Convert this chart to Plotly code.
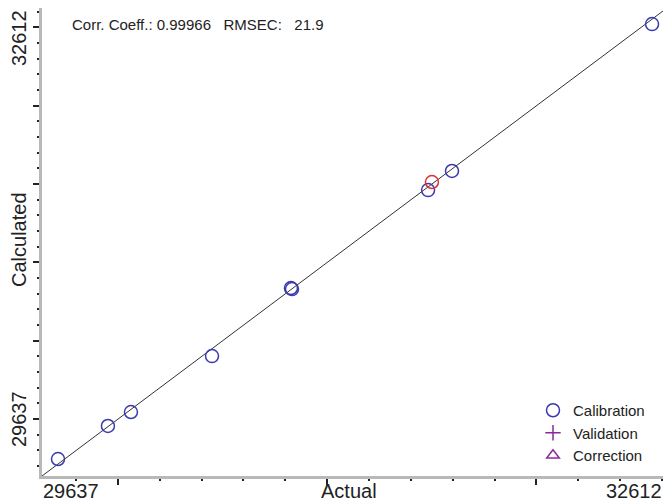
import plotly.graph_objects as go

# ---- data ----
cal_actual = [29296, 29580, 29711, 30172, 30621, 30627, 31401, 31537, 32675]
cal_calculated = [29334, 29585, 29691, 30116, 30633, 30625, 31377, 31522, 32638]
sel_actual = [31423]
sel_calculated = [31438]
axis_range = [29205, 32760]
fit_line = [29205, 32760]
y_tick_vals = [29637, 30232, 30827, 31422, 32017, 32612]
y_end_labels = ["29637", "32612"]
x_tick_vals = [29637, 30827, 32017]
x_end_labels = ["29637", "32612"]
corr_coeff = 0.99966
rmsec = 21.9

FONT = "Arial, Liberation Sans, sans-serif"
BLUE = "#3a3ab0"
PURPLE = "#8a2a9a"
TXT = "#222222"

fig = go.Figure()
fig.add_trace(go.Scatter(x=fit_line, y=fit_line, mode="lines",
                         line=dict(color="#333333", width=1), showlegend=False,
                         hoverinfo="skip"))
fig.add_trace(go.Scatter(x=cal_actual, y=cal_calculated, mode="markers", name="Calibration",
                         marker=dict(symbol="circle-open", size=13, color=BLUE,
                                     line=dict(width=1.5, color=BLUE))))
fig.add_trace(go.Scatter(x=[None], y=[None], mode="markers", name="Validation",
                         marker=dict(symbol="cross-thin-open", size=11, color=PURPLE,
                                     line=dict(width=1.5, color=PURPLE))))
fig.add_trace(go.Scatter(x=[None], y=[None], mode="markers", name="Correction",
                         marker=dict(symbol="triangle-up-open", size=11, color=PURPLE,
                                     line=dict(width=1.5, color=PURPLE))))
fig.add_trace(go.Scatter(x=sel_actual, y=sel_calculated, mode="markers", showlegend=False,
                         marker=dict(symbol="circle-open", size=13, color="#e03030",
                                     line=dict(width=1.5, color="#e03030"))))

# the page body adds an 8 px offset; design in window pixels
OFF = 8
W, H = 671 - OFF, 501 - OFF
plot_left, plot_right, plot_top, plot_bottom = 42, 667, 8, 476  # window pixels
ml = plot_left - OFF
mr = (W + OFF) - plot_right
mt = plot_top - OFF
mb = (H + OFF) - plot_bottom
pw = plot_right - plot_left
ph = plot_bottom - plot_top

def px_x(p):
    return (p - plot_left) / pw

def px_y(p):
    return (plot_bottom - p) / ph

fig.update_layout(
    width=W, height=H,
    margin=dict(l=ml, r=mr, t=mt, b=mb, autoexpand=False),
    paper_bgcolor="white", plot_bgcolor="white",
    font=dict(family=FONT, size=15, color=TXT),
    xaxis=dict(range=axis_range, showgrid=False, zeroline=False,
               showline=True, linecolor="#b8b8b8", linewidth=3,
               tickmode="array", tickvals=x_tick_vals, ticktext=["", "", ""],
               ticks="outside", ticklen=6, tickwidth=1.5, tickcolor=TXT,
               minor=dict(dtick=238, tick0=29637, ticks="outside", ticklen=2,
                          tickwidth=2, tickcolor=TXT)),
    yaxis=dict(range=axis_range, showgrid=False, zeroline=False,
               showline=True, linecolor="#b8b8b8", linewidth=3,
               tickmode="array", tickvals=y_tick_vals,
               ticktext=[""] * len(y_tick_vals),
               ticks="outside", ticklen=6, tickwidth=1.5, tickcolor=TXT,
               minor=dict(dtick=119, tick0=29637, ticks="outside", ticklen=2,
                          tickwidth=2, tickcolor=TXT)),
    legend=dict(x=px_x(533), y=px_y(394), xanchor="left", yanchor="top",
                bgcolor="rgba(0,0,0,0)", font=dict(size=15, color=TXT),
                tracegroupgap=0, itemwidth=30),
    showlegend=True,
)

annotations = [
    dict(text=f"Corr. Coeff.: {corr_coeff}\u00a0\u00a0\u00a0RMSEC:\u00a0\u00a0\u00a0{rmsec}",
         x=px_x(70), y=px_y(25), xref="paper", yref="paper",
         xanchor="left", yanchor="middle", showarrow=False,
         font=dict(size=15, color=TXT)),
    dict(text=x_end_labels[0], x=px_x(71), y=px_y(491), xref="paper", yref="paper",
         xanchor="center", yanchor="middle", showarrow=False,
         font=dict(size=20, color=TXT)),
    dict(text=x_end_labels[1], x=px_x(664), y=px_y(491), xref="paper", yref="paper",
         xanchor="right", yanchor="middle", showarrow=False,
         font=dict(size=20, color=TXT)),
    dict(text="Actual", x=px_x(349), y=px_y(491), xref="paper", yref="paper",
         xanchor="center", yanchor="middle", showarrow=False,
         font=dict(size=20, color=TXT)),
    dict(text="Calculated", x=px_x(19), y=px_y(240), xref="paper", yref="paper",
         xanchor="center", yanchor="middle", showarrow=False, textangle=-90,
         font=dict(size=20, color=TXT)),
    dict(text=y_end_labels[0], x=px_x(19), y=px_y(419), xref="paper", yref="paper",
         xanchor="center", yanchor="middle", showarrow=False, textangle=-90,
         font=dict(size=20, color=TXT)),
    dict(text=y_end_labels[1], x=px_x(19), y=px_y(38), xref="paper", yref="paper",
         xanchor="center", yanchor="middle", showarrow=False, textangle=-90,
         font=dict(size=20, color=TXT)),
]
fig.update_layout(annotations=annotations)

fig.write_html("out.html")
